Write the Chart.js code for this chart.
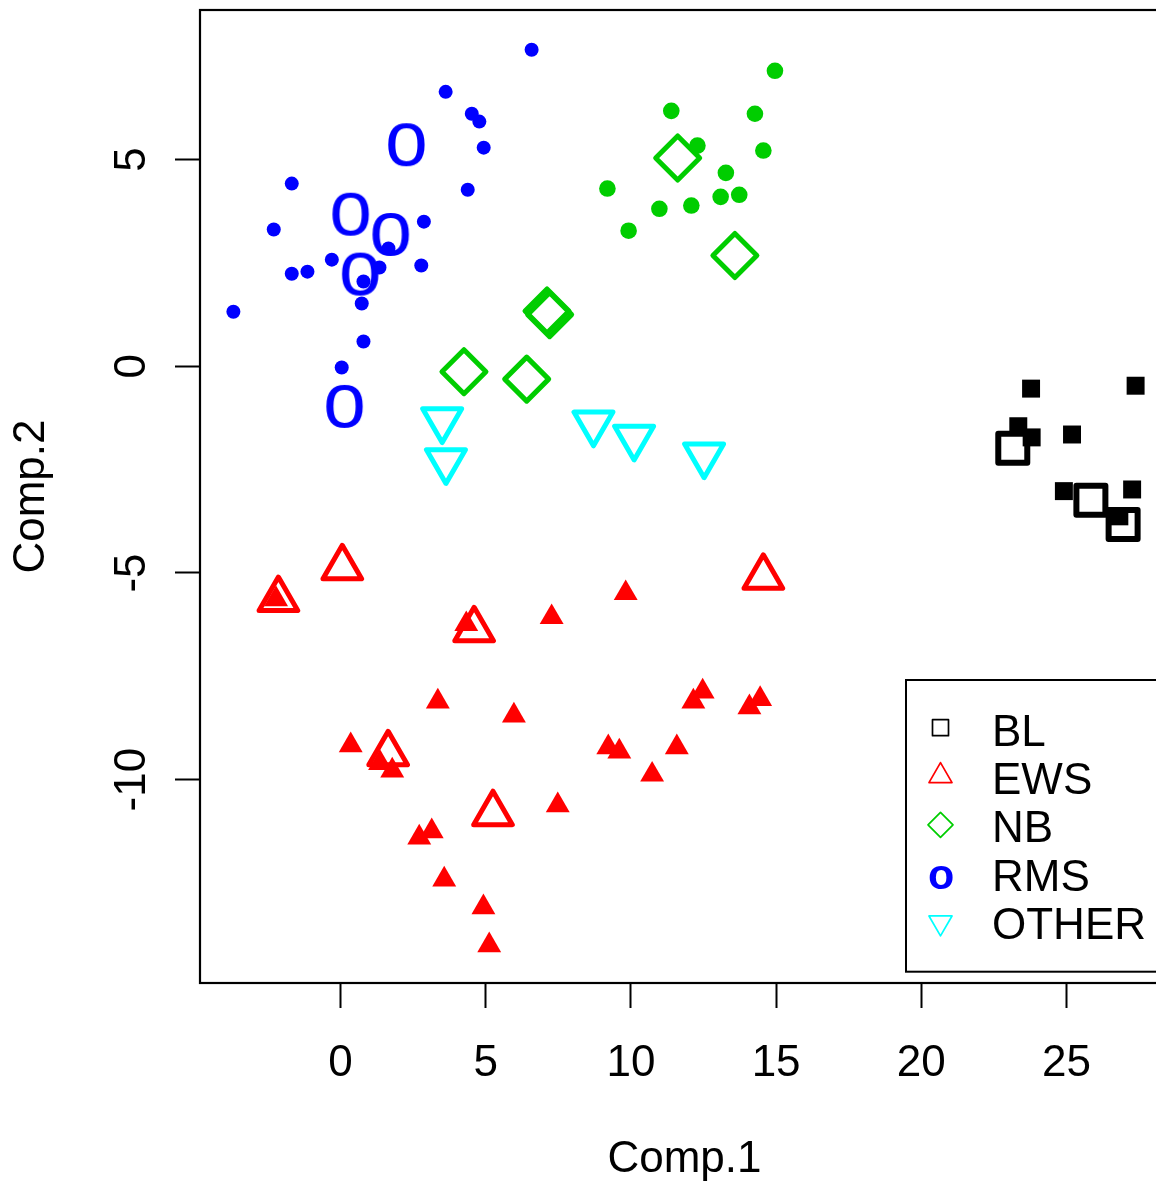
<!DOCTYPE html>
<html><head><meta charset="utf-8">
<script src="https://cdn.jsdelivr.net/npm/chart.js@4/dist/chart.umd.min.js"></script>
<style>
html,body{margin:0;padding:0;background:#fff;overflow:hidden;}
#wrap{width:1156px;height:1183px;overflow:hidden;position:relative;background:#fff;}
canvas{display:block;}
</style></head><body>
<div id="wrap"><canvas id="c" width="1200" height="1183" style="width:1200px;height:1183px"></canvas></div>
<script>
// ---- axis / labels ----
const xTicks = [0, 5, 10, 15, 20, 25];
const yTicks = [-10, -5, 0, 5];
const xLimits = [-4.84, 28.53];
const yLimits = [-14.92, 8.62];
const xTitle = 'Comp.1';
const yTitle = 'Comp.2';
const legendLabels = ['BL', 'EWS', 'NB', 'RMS', 'OTHER'];

// ---- RMS ----
const rmsTrainX = [6.58, 3.62, 4.52, 4.78, 4.93, -1.68, 4.38, -2.30, 2.87, -0.30, -1.68, -1.14, 1.34, 2.78, 1.65, 0.79, 0.73, -3.69, 0.79, 0.04];
const rmsTrainY = [7.66, 6.64, 6.11, 5.92, 5.29, 4.42, 4.27, 3.31, 3.50, 2.58, 2.24, 2.29, 2.39, 2.44, 2.85, 2.05, 1.52, 1.32, 0.60, -0.03];
const rmsTestX = [2.27, 0.35, 1.73, 0.68, 0.14];
const rmsTestY = [5.36, 3.68, 3.19, 2.23, -0.97];

// ---- NB ----
const nbTrainX = [14.96, 11.39, 14.27, 12.29, 14.56, 13.27, 9.19, 13.73, 13.09, 12.08, 10.98, 9.92];
const nbTrainY = [7.15, 6.18, 6.11, 5.34, 5.22, 4.68, 4.30, 4.15, 4.10, 3.89, 3.81, 3.28];
const nbTestX = [11.61, 13.58, 7.11, 7.20, 4.25, 6.41];
const nbTestY = [5.04, 2.68, 1.34, 1.25, -0.13, -0.31];

// ---- EWS ----
const ewsTrainX = [-2.22, 7.27, 4.33, 3.35, 5.97, 0.35, 1.36, 1.78, 7.48, 3.14, 2.71, 3.57, 4.92, 5.12, 9.82, 12.47, 12.15, 14.45, 14.08, 9.22, 9.60, 11.58, 10.73];
const ewsTrainY = [-5.64, -6.07, -6.24, -8.11, -8.45, -9.17, -9.60, -9.78, -10.62, -11.25, -11.40, -12.42, -13.09, -14.01, -5.49, -7.87, -8.11, -8.05, -8.25, -9.22, -9.32, -9.22, -9.88];
const ewsTestX = [14.56, -2.14, 0.06, 4.60, 1.64, 5.25];
const ewsTestY = [-5.10, -5.64, -4.87, -6.37, -9.37, -10.82];

// ---- BL ----
const blTrainX = [23.78, 27.38, 23.34, 23.80, 25.19, 24.91, 27.26, 26.82];
const blTrainY = [-0.54, -0.47, -1.45, -1.72, -1.65, -3.02, -2.98, -3.63];
const blTestX = [23.15, 25.84, 26.95];
const blTestY = [-1.98, -3.24, -3.83];

// ---- OTHER ----
const otherTestX = [3.50, 3.63, 8.71, 10.11, 12.52];
const otherTestY = [-1.30, -2.29, -1.38, -1.72, -2.15];

// ---- styles ----
const FONT = "'Liberation Sans', Arial, Helvetica, sans-serif";
const COL = {BL: '#000000', EWS: '#FF0000', NB: '#00CD00', RMS: '#0000FF', OTHER: '#00FFFF'};

function pts(xs, ys) { return xs.map((x, i) => ({x: x, y: ys[i]})); }

function glyph(ch, font, color) {
  const m = document.createElement('canvas').getContext('2d');
  m.font = font;
  const t = m.measureText(ch);
  const w = Math.ceil(t.actualBoundingBoxLeft + t.actualBoundingBoxRight) + 6;
  const h = Math.ceil(t.actualBoundingBoxAscent + t.actualBoundingBoxDescent) + 6;
  const c = document.createElement('canvas');
  c.width = w; c.height = h;
  const g = c.getContext('2d');
  g.font = font; g.fillStyle = color; g.textAlign = 'left'; g.textBaseline = 'alphabetic';
  const x0 = w / 2 - (t.actualBoundingBoxRight - t.actualBoundingBoxLeft) / 2;
  const y0 = h / 2 + (t.actualBoundingBoxAscent - t.actualBoundingBoxDescent) / 2;
  g.fillText(ch, x0, y0);
  return c;
}
const oBig = glyph('o', '77px ' + FONT, COL.RMS);
const oSmall = glyph('o', 'bold 43px ' + FONT, COL.RMS);

const legendSymbols = [
  {type: 'rect', r: 8, dy: -5.8},
  {type: 'tri', r: 13.3, rot: 0, dy: -6},
  {type: 'diamond', r: 12.5, dy: -5.5},
  {type: 'glyph', dy: -1.2},
  {type: 'tri', r: 13.3, rot: 180, dy: -4.5}
];

const decor = {
  id: 'decor',
  beforeDraw(chart) { chart.ctx.lineJoin = 'round'; },
  beforeDatasetsDraw(chart) { chart.ctx.lineJoin = 'round'; },
  afterDatasetsDraw(chart) {
    const {ctx, chartArea: a} = chart;
    ctx.save();
    ctx.lineWidth = 2.2; ctx.strokeStyle = '#000'; ctx.lineJoin = 'miter';
    ctx.strokeRect(a.left, a.top, a.right - a.left, a.bottom - a.top);
    ctx.restore();
  },
  afterDraw(chart) {
    const {ctx, chartArea: a} = chart;
    ctx.save();
    ctx.lineWidth = 2; ctx.strokeStyle = '#000'; ctx.lineJoin = 'miter';
    ctx.strokeRect(906, 680, a.right + 20 - 906, 291.7);
    const cols = [COL.BL, COL.EWS, COL.NB, COL.RMS, COL.OTHER];
    const sx = 940.5;
    ctx.lineJoin = 'round';
    legendLabels.forEach((lab, i) => {
      const rowY = 733.5 + 48.4 * i;
      const s = legendSymbols[i];
      const cy = rowY + s.dy;
      ctx.strokeStyle = cols[i]; ctx.lineWidth = 1.7;
      ctx.beginPath();
      if (s.type === 'rect') {
        ctx.rect(sx - s.r, cy - s.r, 2 * s.r, 2 * s.r);
        ctx.stroke();
      } else if (s.type === 'tri') {
        const rad0 = s.rot * Math.PI / 180;
        for (let k = 0; k < 3; k++) {
          const rad = rad0 + k * 2 * Math.PI / 3;
          const px = sx + Math.sin(rad) * s.r, py = cy - Math.cos(rad) * s.r;
          if (k === 0) ctx.moveTo(px, py); else ctx.lineTo(px, py);
        }
        ctx.closePath(); ctx.stroke();
      } else if (s.type === 'diamond') {
        ctx.moveTo(sx, cy - s.r); ctx.lineTo(sx + s.r, cy); ctx.lineTo(sx, cy + s.r); ctx.lineTo(sx - s.r, cy);
        ctx.closePath(); ctx.stroke();
      } else if (s.type === 'glyph') {
        ctx.drawImage(oSmall, Math.round(sx - oSmall.width / 2), Math.round(cy - oSmall.height / 2));
      }
      ctx.fillStyle = '#000';
      ctx.font = '44px ' + FONT;
      ctx.textAlign = 'left';
      ctx.textBaseline = 'middle';
      ctx.fillText(lab, 992, rowY);
    });
    ctx.restore();
  }
};

Chart.defaults.font.family = FONT;
Chart.defaults.color = '#000';

const datasets = [
  {label: 'RMS', data: pts(rmsTrainX, rmsTrainY), pointStyle: 'circle', pointRadius: 7,
   pointBackgroundColor: COL.RMS, pointBorderWidth: 0, pointBorderColor: COL.RMS},
  {label: 'NB', data: pts(nbTrainX, nbTrainY), pointStyle: 'circle', pointRadius: 8.3,
   pointBackgroundColor: COL.NB, pointBorderWidth: 0, pointBorderColor: COL.NB},
  {label: 'EWS', data: pts(ewsTrainX, ewsTrainY), pointStyle: 'triangle', pointRadius: 13.8,
   pointBackgroundColor: COL.EWS, pointBorderWidth: 0, pointBorderColor: COL.EWS},
  {label: 'BL', data: pts(blTrainX, blTrainY), pointStyle: 'rect', pointRadius: 12.7,
   pointBackgroundColor: COL.BL, pointBorderWidth: 0, pointBorderColor: COL.BL},
  {label: 'RMS test', data: pts(rmsTestX, rmsTestY), pointStyle: oBig, pointRadius: 20,
   pointBackgroundColor: COL.RMS, pointBorderWidth: 0},
  {label: 'NB test', data: pts(nbTestX, nbTestY), pointStyle: 'rectRot', pointRadius: 22,
   pointBackgroundColor: 'rgba(0,0,0,0)', pointBorderColor: COL.NB, pointBorderWidth: 5},
  {label: 'EWS test', data: pts(ewsTestX, ewsTestY), pointStyle: 'triangle', pointRadius: 22.3,
   pointBackgroundColor: 'rgba(0,0,0,0)', pointBorderColor: COL.EWS, pointBorderWidth: 5},
  {label: 'BL test', data: pts(blTestX, blTestY), pointStyle: 'rect', pointRadius: 20.5,
   pointBackgroundColor: 'rgba(0,0,0,0)', pointBorderColor: COL.BL, pointBorderWidth: 6},
  {label: 'OTHER test', data: pts(otherTestX, otherTestY), pointStyle: 'triangle', pointRadius: 22.5,
   pointRotation: 180, pointBackgroundColor: 'rgba(0,0,0,0)', pointBorderColor: COL.OTHER, pointBorderWidth: 5}
];

new Chart(document.getElementById('c'), {
  type: 'scatter',
  data: {datasets: datasets},
  plugins: [decor],
  options: {
    responsive: false,
    animation: false,
    events: [],
    layout: {autoPadding: false, padding: {top: 10, right: 31, left: 0, bottom: 0}},
    plugins: {legend: {display: false}, tooltip: {enabled: false}},
    scales: {
      x: {
        type: 'linear', position: 'bottom', min: xLimits[0], max: xLimits[1],
        afterBuildTicks: (ax) => { ax.ticks = xTicks.map(v => ({value: v})); },
        afterFit: (ax) => { ax.height = 200; ax.paddingLeft = 0; ax.paddingRight = 0; },
        border: {display: false},
        grid: {display: true, drawOnChartArea: false, drawTicks: true, tickLength: 25, tickColor: '#000', tickWidth: 2},
        ticks: {autoSkip: false, maxRotation: 0, minRotation: 0, padding: 34, color: '#000',
                font: {size: 44, lineHeight: 1}, callback: (v) => String(v)},
        title: {display: true, text: xTitle, color: '#000', font: {size: 44, lineHeight: 1}, padding: {top: 0, bottom: 1}}
      },
      y: {
        type: 'linear', position: 'left', min: yLimits[0], max: yLimits[1],
        afterBuildTicks: (ax) => { ax.ticks = yTicks.map(v => ({value: v})); },
        afterFit: (ax) => { ax.width = 200; ax.paddingTop = 0; ax.paddingBottom = 0; },
        border: {display: false},
        grid: {display: true, drawOnChartArea: false, drawTicks: true, tickLength: 25, tickColor: '#000', tickWidth: 2},
        ticks: {autoSkip: false, minRotation: 90, maxRotation: 90, crossAlign: 'center', padding: 10, color: '#000',
                font: {size: 44, lineHeight: 1}, callback: (v) => String(v)},
        title: {display: true, text: yTitle, color: '#000', font: {size: 44, lineHeight: 1}, padding: {top: 10, bottom: 0}}
      }
    }
  }
});
</script>
</body></html>
